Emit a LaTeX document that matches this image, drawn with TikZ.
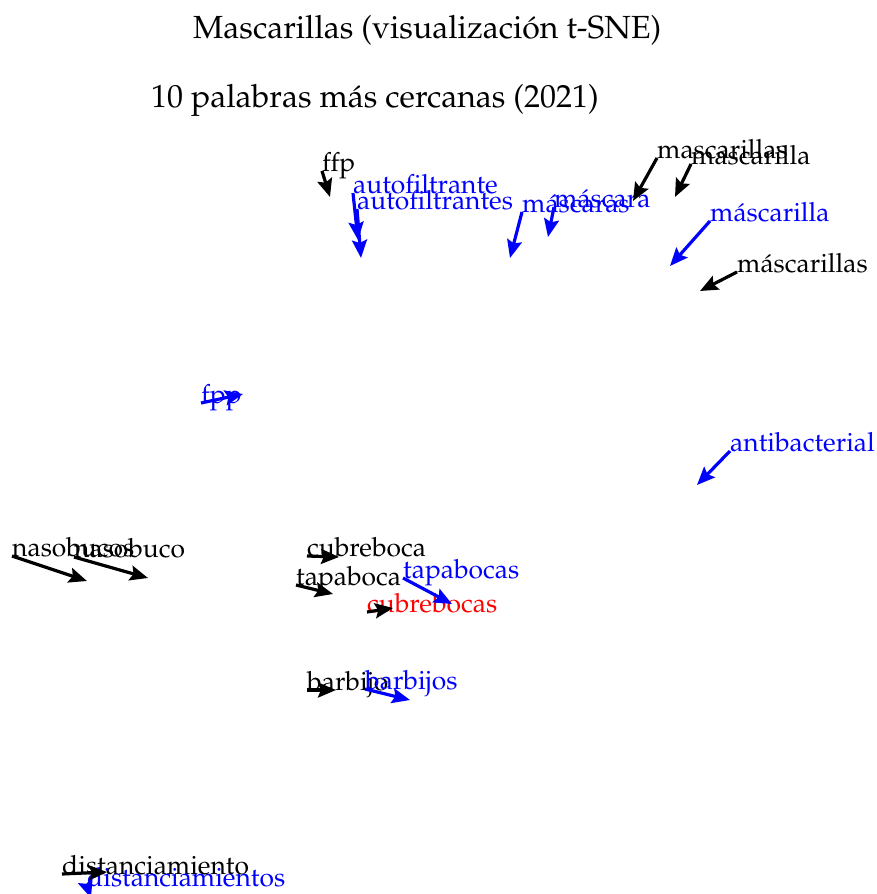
\documentclass[tikz,border=0pt]{standalone}
\usepackage[T1]{fontenc}
\usepackage{mathpazo}
\usetikzlibrary{arrows.meta}
\begin{document}
\begin{tikzpicture}[x=1pt,y=-1pt,
  lbl/.style={anchor=base west,inner sep=0pt,font=\fontsize{26.4}{30}\selectfont},
  ttl/.style={anchor=base west,inner sep=0pt,font=\fontsize{32}{36}\selectfont},
  ptr/.style={line width=3.2pt,-{Stealth[length=18pt,width=15pt,inset=3pt]}},
  ]
\useasboundingbox (0,0) rectangle (877,894);

% headings
\node[ttl] (title) at (193,38) {Mascarillas (visualizaci\'on t-SNE)};
\node[ttl] (subtitle) at (151,107) {10 palabras m\'as cercanas (2021)};

% labels (text starts where the arrow starts)
\node[lbl] (ffp) at (322,171) {ffp};
\node[lbl,blue] (autof) at (353,193) {autofiltrante};
\node[lbl,blue] (autofs) at (357,209) {autofiltrantes};
\node[lbl,blue] (mascaras) at (522,212) {m\'ascaras};
\node[lbl,blue] (mascara) at (554,207) {m\'ascara};
\node[lbl] (mascarillas) at (657,158) {mascarillas};
\node[lbl] (mascarilla) at (691,164) {mascarilla};
\node[lbl,blue] (mascarillaB) at (710,221) {m\'ascarilla};
\node[lbl] (mascarillasB) at (737,272) {m\'ascarillas};
\node[lbl,blue] (fpp) at (201,403) {fpp};
\node[lbl,blue] (antib) at (730,451) {antibacterial};
\node[lbl] (nasobucos) at (12,556) {nasobucos};
\node[lbl] (nasobuco) at (74,557) {nasobuco};
\node[lbl] (cubreboca) at (307,556) {cubreboca};
\node[lbl] (tapaboca) at (296,585) {tapaboca};
\node[lbl,blue] (tapabocas) at (403,578) {tapabocas};
\node[lbl,red] (cubrebocas) at (367,612) {cubrebocas};
\node[lbl] (barbijo) at (307,690) {barbijo};
\node[lbl,blue] (barbijos) at (365,689) {barbijos};
\node[lbl] (dist) at (62,874) {distanciamiento};
\node[lbl,blue] (dists) at (87,886) {distanciamientos};

% points the arrows end at
\coordinate (t-ffp) at (330,197);
\coordinate (t-autof) at (358,240);
\coordinate (t-autofs) at (361,258);
\coordinate (t-mascaras) at (510,258);
\coordinate (t-mascara) at (548,237);
\coordinate (t-mascarillas) at (633,201);
\coordinate (t-mascarilla) at (675,197);
\coordinate (t-mascarillaB) at (670,266);
\coordinate (t-mascarillasB) at (700,291);
\coordinate (t-fpp) at (243,394);
\coordinate (t-antib) at (697,485);
\coordinate (t-nasobucos) at (87,581);
\coordinate (t-nasobuco) at (148,578);
\coordinate (t-cubreboca) at (339,557);
\coordinate (t-tapaboca) at (333,594);
\coordinate (t-tapabocas) at (452,604);
\coordinate (t-cubrebocas) at (393,608);
\coordinate (t-barbijo) at (336,690);
\coordinate (t-barbijos) at (410,700);
\coordinate (t-dist) at (107,872);
\coordinate (t-dists) at (91,898);

% arrows
\draw[ptr] (ffp.base west) -- (t-ffp);
\draw[ptr,blue] (autof.base west) -- (t-autof);
\draw[ptr,blue] (autofs.base west) -- (t-autofs);
\draw[ptr,blue] (mascaras.base west) -- (t-mascaras);
\draw[ptr,blue] (mascara.base west) -- (t-mascara);
\draw[ptr] (mascarillas.base west) -- (t-mascarillas);
\draw[ptr] (mascarilla.base west) -- (t-mascarilla);
\draw[ptr,blue] (mascarillaB.base west) -- (t-mascarillaB);
\draw[ptr] (mascarillasB.base west) -- (t-mascarillasB);
\draw[ptr,blue] (fpp.base west) -- (t-fpp);
\draw[ptr,blue] (antib.base west) -- (t-antib);
\draw[ptr] (nasobucos.base west) -- (t-nasobucos);
\draw[ptr] (nasobuco.base west) -- (t-nasobuco);
\draw[ptr] (cubreboca.base west) -- (t-cubreboca);
\draw[ptr] (tapaboca.base west) -- (t-tapaboca);
\draw[ptr,blue] (tapabocas.base west) -- (t-tapabocas);
\draw[ptr] (cubrebocas.base west) -- (t-cubrebocas);
\draw[ptr] (barbijo.base west) -- (t-barbijo);
\draw[ptr,blue] (barbijos.base west) -- (t-barbijos);
\draw[ptr] (dist.base west) -- (t-dist);
\draw[ptr,blue] (dists.base west) -- (t-dists);
\end{tikzpicture}
\end{document}
